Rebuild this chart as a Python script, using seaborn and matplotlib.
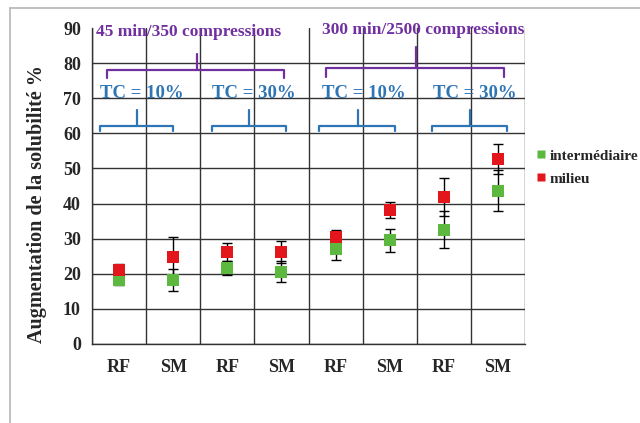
import pandas as pd
import numpy as np
import seaborn as sns
import matplotlib.pyplot as plt
from matplotlib.lines import Line2D

# values
categories = ['RF', 'SM', 'RF', 'SM', 'RF', 'SM', 'RF', 'SM']
intermediaire = [18.2, 18.3, 21.7, 20.6, 27.0, 29.5, 32.6, 43.7]
intermediaire_err = [1.5, 3.2, 2.0, 3.0, 3.0, 3.3, 5.2, 5.8]
milieu = [21.2, 24.9, 26.3, 26.3, 30.6, 38.2, 41.8, 52.7]
milieu_err = [1.7, 5.6, 2.6, 3.1, 2.0, 2.2, 5.4, 4.3]
series_names = ['intermédiaire', 'milieu']
yticks = [0, 10, 20, 30, 40, 50, 60, 70, 80, 90]

green = '#5DB840'
red = '#E3161C'
purple = '#7030A0'
blue = '#2E75B6'

sns.set_style('white')
plt.rcParams['font.family'] = ['Liberation Serif', 'DejaVu Serif']
plt.rcParams['font.weight'] = 'bold'

pos = np.arange(len(categories))
df = pd.DataFrame({
    'x': np.tile(pos, 2),
    'valeur': intermediaire + milieu,
    'err': intermediaire_err + milieu_err,
    'zone': [series_names[0]] * len(pos) + [series_names[1]] * len(pos),
})

fig = plt.figure(figsize=(6.4, 4.23), dpi=100)
ax = fig.add_axes([92 / 640, 1 - 344 / 423, 433 / 640, 316 / 423])

# error bars under the markers
for name, col in zip(series_names, [green, red]):
    sub = df[df['zone'] == name]
    ax.errorbar(sub['x'], sub['valeur'], yerr=sub['err'], fmt='none',
                ecolor='black', elinewidth=1, capsize=3.5, capthick=1, zorder=3)

sns.scatterplot(data=df, x='x', y='valeur', hue='zone', palette=[green, red],
                marker='s', s=75, edgecolor='none', zorder=4, ax=ax)

ax.set_xlim(-0.5, len(pos) - 0.5)
ax.set_ylim(0, 90)
ax.set_xticks(pos)
ax.set_xticklabels(categories, fontsize=13, fontweight='bold')
ax.set_xticks(np.arange(len(pos) + 1) - 0.5, minor=True)
ax.set_yticks(yticks)
ax.set_yticklabels([str(v) for v in yticks], fontsize=13, fontweight='bold')
ax.tick_params(axis='x', which='major', length=0, pad=11)
ax.tick_params(axis='x', which='minor', length=5, direction='out', color='#333333')
ax.tick_params(axis='y', length=5, direction='out', color='#333333', pad=3)
ax.grid(axis='x', which='minor', color='#333333', lw=1)
ax.grid(axis='y', which='major', color='#333333', lw=1)
ax.yaxis.get_gridlines()[-1].set_visible(False)
ax.set_axisbelow(True)
for s in ['top', 'right']:
    ax.spines[s].set_visible(False)
for s in ['left', 'bottom']:
    ax.spines[s].set_color('#333333')
    ax.spines[s].set_linewidth(1)

ax.set_xlabel('')
ax.set_ylabel('Augmentation de la solubilité %', fontsize=14.5, fontweight='bold')
ax.yaxis.set_label_coords(-0.103, 0.443)

# group brackets
def bracket(x0, x1, xc, y, drop, rise, color):
    ax.plot([x0, x0, x1, x1], [y - drop, y, y, y - drop], color=color, lw=1.6, zorder=5)
    ax.plot([xc, xc], [y, y + rise], color=color, lw=1.6, zorder=5)

bracket(-0.22, 3.05, 1.44, 78.1, 2.3, 4.5, purple)
bracket(3.83, 7.12, 5.49, 78.6, 2.6, 6.0, purple)
for x0, x1, xc in [(-0.35, 1.0, 0.33), (1.72, 3.09, 2.40), (3.70, 5.10, 4.42), (5.78, 7.17, 6.49)]:
    bracket(x0, x1, xc, 62.1, 1.4, 4.5, blue)

ax.text(-0.43, 89.0, '45 min/350 compressions', color=purple, fontsize=12.5,
        fontweight='bold', ha='left', va='center', zorder=6)
ax.text(3.75, 89.4, '300 min/2500 compressions', color=purple, fontsize=12.5,
        fontweight='bold', ha='left', va='center', zorder=6)
for xc, label in [(0.42, 'TC = 10%'), (2.49, 'TC = 30%'), (4.53, 'TC = 10%'), (6.58, 'TC = 30%')]:
    ax.text(xc, 71.3, label, color=blue, fontsize=13.5, fontweight='bold',
            ha='center', va='center', zorder=6)

handles, labels = ax.get_legend_handles_labels()
ax.legend(handles, labels, loc='upper left', bbox_to_anchor=(531 / 640, 1 - 143 / 423),
          bbox_transform=fig.transFigure, frameon=False, handlelength=0.5,
          handletextpad=0.3, labelspacing=0.6, borderaxespad=0, markerscale=0.6,
          prop={'family': 'Liberation Serif', 'weight': 'bold', 'size': 11})

# thin frame of the original picture
fig.add_artist(Line2D([10 / 640, 10 / 640], [0, 1 - 8 / 423], transform=fig.transFigure,
                      color='#b5b5b5', lw=1.2))
fig.add_artist(Line2D([10 / 640, 1], [1 - 8 / 423, 1 - 8 / 423], transform=fig.transFigure,
                      color='#b5b5b5', lw=1.2))

fig.savefig('out.png', dpi=100, facecolor='white')
